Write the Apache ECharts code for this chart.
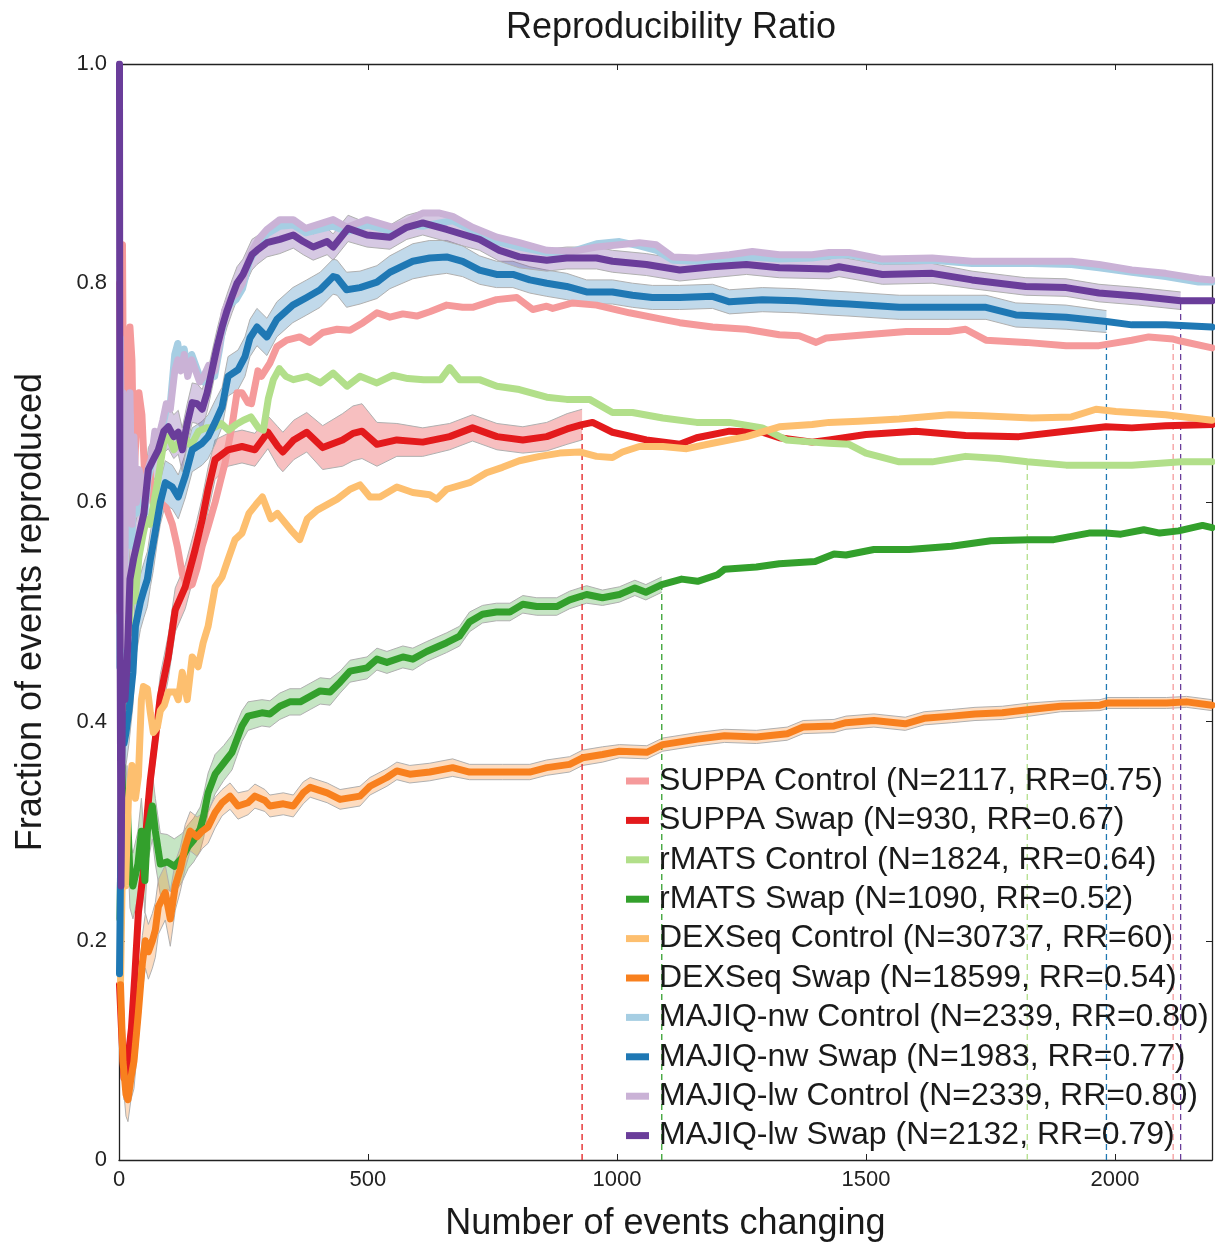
<!DOCTYPE html>
<html>
<head>
<meta charset="utf-8">
<script src="https://cdn.jsdelivr.net/npm/echarts@6/dist/echarts.min.js"></script>
<style>
html,body{margin:0;padding:0;background:#fff;}
#chart{width:1215px;height:1247px;}
</style>
</head>
<body>
<div id="chart"></div>
<script>
// legend order
var methodNames = ['SUPPA Control','SUPPA Swap','rMATS Control','rMATS Swap','DEXSeq Control','DEXSeq Swap','MAJIQ-nw Control','MAJIQ-nw Swap','MAJIQ-lw Control','MAJIQ-lw Swap'];
var eventCounts = [2117, 930, 1824, 1090, 30737, 18599, 2339, 1983, 2339, 2132];
var rrLabels = ['0.75','0.67','0.64','0.52','60','0.54','0.80','0.77','0.80','0.79'];
var lineColors = ['#f59a9b','#e31a1c','#b2df8a','#33a02c','#fdbf6f','#f8801e','#a6cee3','#1f78b4','#cab2d6','#6a3d9a'];
var xMax = 2195;

// [x, fraction] or [x, fraction, band half width]
var suppaControl = [[1,0.80],[4,0.60],[7,0.835],[10,0.60],[14,0.70],[18,0.62],[22,0.76],[26,0.73],[30,0.62],[34,0.66],[40,0.70],[46,0.68],[52,0.62],[60,0.64],[68,0.60],[75,0.605],[83,0.60],[95,0.595],[107,0.58],[117,0.56],[127,0.535],[137,0.523],[147,0.525],[157,0.54],[167,0.56],[179,0.578],[193,0.60],[204,0.62],[213,0.636],[227,0.67],[237,0.70],[247,0.70],[259,0.691],[266,0.69],[279,0.72],[286,0.715],[303,0.727],[317,0.742],[337,0.748],[363,0.751],[383,0.746],[409,0.755],[438,0.758],[464,0.757],[490,0.764],[518,0.773],[544,0.769],[570,0.772],[598,0.770],[624,0.774],[658,0.780],[690,0.778],[710,0.778],[758,0.785],[799,0.787],[831,0.776],[859,0.779],[871,0.777],[911,0.782],[959,0.780],[1025,0.773],[1092,0.767],[1126,0.764],[1192,0.760],[1260,0.758],[1326,0.753],[1366,0.752],[1400,0.746],[1420,0.750],[1500,0.753],[1581,0.756],[1667,0.756],[1700,0.758],[1741,0.748],[1821,0.746],[1902,0.743],[1968,0.743],[2034,0.748],[2068,0.751],[2117,0.749],[2134,0.747],[2195,0.741]];
var suppaSwap = [[1,0.16,0.02],[5,0.12,0.02],[10,0.075,0.02],[15,0.08,0.02],[20,0.10,0.02],[25,0.12,0.02],[32,0.17,0.02],[39,0.226,0.02],[49,0.263,0.02],[57,0.317,0.02],[63,0.347,0.02],[73,0.384,0.02],[83,0.423,0.02],[99,0.459,0.02],[113,0.502,0.02],[133,0.523,0.02],[153,0.557,0.02],[167,0.584,0.02],[179,0.612,0.02],[193,0.639,0.018],[219,0.648,0.015],[247,0.651,0.015],[273,0.648,0.015],[299,0.664,0.015],[319,0.651,0.018],[329,0.646,0.018],[351,0.657,0.018],[377,0.664,0.018],[409,0.650,0.02],[449,0.657,0.024],[470,0.663,0.025],[488,0.665,0.025],[518,0.653,0.02],[558,0.657,0.015],[610,0.655,0.013],[664,0.660,0.012],[710,0.668,0.012],[759,0.660,0.012],[811,0.657,0.012],[859,0.660,0.013],[900,0.667,0.014],[930,0.671,0.014],[951,0.673],[991,0.664],[1059,0.657],[1126,0.653],[1160,0.659],[1226,0.665],[1292,0.664],[1326,0.659],[1392,0.655],[1426,0.657],[1500,0.662],[1600,0.665],[1700,0.661],[1807,0.660],[1901,0.665],[1982,0.669],[2034,0.668],[2102,0.670],[2195,0.671]];
var rmatsControl = [[3,0.30],[8,0.42],[14,0.50],[20,0.48],[26,0.53],[32,0.51],[40,0.55],[48,0.57],[55,0.585],[62,0.58],[70,0.60],[78,0.62],[90,0.655],[100,0.66],[110,0.648],[120,0.655],[130,0.66],[145,0.652],[160,0.665],[175,0.668],[190,0.668],[205,0.672],[220,0.666],[235,0.671],[250,0.675],[265,0.678],[280,0.668],[290,0.666],[300,0.695],[310,0.712],[322,0.722],[335,0.715],[350,0.712],[378,0.715],[404,0.709],[430,0.718],[458,0.706],[484,0.715],[518,0.709],[550,0.716],[580,0.713],[612,0.712],[646,0.712],[664,0.723],[684,0.712],[724,0.712],[759,0.706],[804,0.703],[859,0.696],[899,0.694],[945,0.694],[991,0.682],[1031,0.682],[1092,0.677],[1160,0.673],[1226,0.673],[1292,0.668],[1340,0.657],[1392,0.655],[1426,0.654],[1466,0.653],[1500,0.645],[1567,0.637],[1633,0.637],[1700,0.642],[1767,0.640],[1824,0.637],[1902,0.634],[1968,0.634],[2034,0.634],[2134,0.637],[2195,0.637]];
var rmatsSwap = [[2,0.22,0.03],[6,0.36,0.03],[10,0.28,0.03],[16,0.33,0.03],[22,0.26,0.03],[28,0.25,0.03],[38,0.27,0.03],[45,0.30,0.03],[52,0.255,0.03],[57,0.30,0.03],[67,0.323,0.03],[73,0.30,0.03],[83,0.27,0.028],[97,0.272,0.025],[111,0.268,0.025],[127,0.276,0.022],[139,0.286,0.02],[150,0.292,0.02],[163,0.302,0.02],[170,0.314,0.02],[179,0.335,0.018],[193,0.352,0.018],[210,0.362,0.016],[227,0.372,0.016],[247,0.396,0.014],[259,0.405,0.013],[287,0.408,0.012],[303,0.407,0.012],[323,0.414,0.012],[343,0.418,0.012],[364,0.418,0.012],[384,0.423,0.012],[404,0.428,0.012],[424,0.427,0.012],[444,0.436,0.01],[464,0.446,0.01],[498,0.449,0.01],[518,0.457,0.01],[538,0.454,0.01],[570,0.459,0.01],[590,0.457,0.01],[618,0.464,0.009],[658,0.472,0.009],[684,0.478,0.009],[704,0.491,0.009],[730,0.498,0.008],[758,0.500,0.008],[785,0.500,0.008],[811,0.507,0.008],[839,0.505,0.008],[879,0.505,0.008],[905,0.511,0.008],[939,0.516,0.008],[971,0.513,0.007],[1005,0.516,0.007],[1036,0.522,0.007],[1058,0.518,0.007],[1090,0.525,0.007],[1130,0.530],[1162,0.528],[1202,0.534],[1216,0.539],[1280,0.541],[1326,0.544],[1398,0.546],[1436,0.553],[1460,0.552],[1516,0.557],[1587,0.557],[1672,0.560],[1751,0.565],[1829,0.566],[1877,0.566],[1948,0.572],[1982,0.572],[2012,0.571],[2058,0.575],[2090,0.572],[2128,0.574],[2176,0.579],[2195,0.577]];
var dexseqControl = [[3,0.16],[8,0.30],[13,0.25],[19,0.33],[26,0.36],[33,0.33],[39,0.35],[45,0.42],[49,0.432],[57,0.430],[63,0.408],[69,0.39],[77,0.395],[83,0.41],[91,0.415],[99,0.427],[113,0.427],[119,0.42],[127,0.445],[137,0.42],[147,0.459],[159,0.45],[169,0.472],[179,0.487],[193,0.523],[207,0.532],[219,0.548],[233,0.566],[247,0.572],[261,0.59],[275,0.598],[288,0.605],[305,0.585],[318,0.59],[345,0.575],[363,0.566],[378,0.585],[398,0.593],[438,0.603],[464,0.612],[484,0.616],[504,0.605],[524,0.605],[558,0.614],[590,0.609],[624,0.607],[638,0.603],[658,0.612],[704,0.618],[738,0.627],[770,0.632],[804,0.638],[845,0.642],[885,0.645],[925,0.646],[959,0.642],[991,0.641],[1011,0.646],[1045,0.651],[1092,0.651],[1140,0.649],[1192,0.654],[1260,0.660],[1326,0.669],[1392,0.671],[1426,0.673],[1486,0.674],[1567,0.676],[1667,0.680],[1733,0.679],[1833,0.677],[1913,0.678],[1962,0.685],[2002,0.683],[2102,0.680],[2195,0.675]];
var dexseqSwap = [[3,0.16,0.02],[8,0.09,0.02],[14,0.06,0.02],[18,0.055,0.02],[24,0.075,0.02],[30,0.09,0.025],[39,0.135,0.025],[47,0.18,0.025],[53,0.20,0.025],[59,0.19,0.025],[67,0.20,0.025],[73,0.21,0.025],[79,0.231,0.025],[93,0.244,0.025],[103,0.22,0.025],[113,0.25,0.022],[123,0.265,0.02],[133,0.286,0.02],[143,0.30,0.018],[157,0.295,0.018],[167,0.30,0.016],[179,0.304,0.015],[193,0.317,0.014],[207,0.326,0.012],[223,0.332,0.012],[239,0.323,0.012],[259,0.326,0.011],[273,0.332,0.011],[293,0.328,0.01],[303,0.323,0.01],[330,0.325,0.01],[350,0.323,0.01],[370,0.335,0.01],[384,0.340,0.009],[418,0.335,0.009],[444,0.329,0.009],[484,0.332,0.009],[504,0.341,0.008],[538,0.349,0.008],[558,0.355,0.008],[584,0.352,0.008],[624,0.354,0.008],[670,0.358,0.008],[704,0.354,0.007],[770,0.354,0.007],[825,0.354,0.007],[859,0.358,0.007],[905,0.361,0.007],[931,0.367,0.007],[971,0.370,0.007],[1005,0.373,0.006],[1060,0.372,0.006],[1092,0.379,0.006],[1162,0.384,0.006],[1216,0.387,0.006],[1280,0.386,0.006],[1342,0.389,0.006],[1374,0.395,0.006],[1436,0.396,0.006],[1460,0.399,0.006],[1516,0.401,0.006],[1579,0.398,0.006],[1617,0.403,0.006],[1672,0.405,0.006],[1719,0.407,0.006],[1774,0.408,0.006],[1829,0.411,0.006],[1891,0.414,0.005],[1970,0.415,0.005],[1986,0.417,0.005],[2050,0.417,0.005],[2104,0.417,0.005],[2144,0.418,0.005],[2195,0.415,0.005]];
var majiqNwControl = [[1,0.45],[3,0.72],[5,0.52],[8,0.66],[11,0.44],[14,0.64],[18,0.58],[22,0.68],[26,0.56],[30,0.64],[35,0.59],[40,0.62],[46,0.61],[52,0.59],[58,0.62],[65,0.635],[72,0.66],[80,0.655],[88,0.67],[95,0.685],[103,0.69],[112,0.735],[118,0.745],[124,0.725],[131,0.74],[138,0.72],[146,0.735],[154,0.725],[162,0.715],[170,0.71],[180,0.72],[192,0.715],[202,0.74],[212,0.77],[222,0.78],[235,0.785],[248,0.795],[262,0.82],[280,0.835],[297,0.845],[323,0.852],[350,0.853],[375,0.846],[430,0.852],[458,0.847],[498,0.853],[550,0.847],[578,0.853],[610,0.852],[644,0.855],[670,0.857],[710,0.848],[759,0.838],[804,0.833],[859,0.828],[911,0.829],[959,0.836],[1005,0.838],[1045,0.834],[1079,0.83],[1112,0.821],[1160,0.82],[1226,0.822],[1272,0.824],[1326,0.822],[1392,0.823],[1426,0.825],[1466,0.826],[1533,0.82],[1633,0.821],[1713,0.818],[1833,0.818],[1913,0.817],[1968,0.814],[2034,0.81],[2102,0.806],[2168,0.801],[2195,0.801]];
var majiqNwSwap = [[1,0.17,0.03],[3,0.26,0.03],[6,0.40,0.03],[10,0.38,0.03],[14,0.39,0.03],[20,0.41,0.03],[28,0.445,0.03],[33,0.487,0.03],[43,0.509,0.025],[50,0.52,0.025],[57,0.53,0.025],[63,0.548,0.025],[69,0.563,0.025],[77,0.584,0.02],[83,0.60,0.02],[93,0.618,0.02],[107,0.614,0.02],[119,0.605,0.02],[133,0.624,0.02],[147,0.648,0.02],[167,0.654,0.02],[179,0.660,0.02],[193,0.673,0.02],[207,0.687,0.018],[219,0.715,0.018],[239,0.721,0.018],[253,0.733,0.018],[263,0.75,0.017],[277,0.760,0.017],[297,0.751,0.017],[317,0.767,0.016],[349,0.780,0.016],[377,0.787,0.016],[404,0.794,0.016],[430,0.806,0.016],[438,0.805,0.016],[457,0.794,0.016],[484,0.796,0.015],[518,0.801,0.015],[544,0.810,0.015],[590,0.82,0.016],[624,0.823,0.016],[658,0.824,0.015],[690,0.82,0.014],[724,0.812,0.013],[758,0.808,0.012],[791,0.808,0.012],[825,0.803,0.012],[859,0.80,0.012],[899,0.797,0.012],[939,0.792,0.011],[991,0.792,0.011],[1031,0.789,0.011],[1071,0.787,0.011],[1126,0.787,0.011],[1192,0.788,0.011],[1226,0.783,0.011],[1292,0.785,0.011],[1360,0.784,0.011],[1426,0.782,0.011],[1466,0.781,0.011],[1567,0.778,0.011],[1667,0.778,0.011],[1741,0.778,0.011],[1801,0.771,0.011],[1902,0.769,0.011],[1983,0.765,0.01],[2034,0.762],[2102,0.762],[2195,0.760]];
var majiqLwControl = [[1,0.50],[3,0.75],[5,0.55],[8,0.70],[11,0.47],[14,0.68],[18,0.60],[22,0.70],[26,0.58],[30,0.66],[35,0.60],[40,0.63],[46,0.62],[52,0.60],[58,0.63],[65,0.64],[72,0.665],[80,0.66],[88,0.675],[95,0.69],[103,0.685],[112,0.72],[118,0.73],[124,0.72],[131,0.735],[138,0.715],[146,0.73],[154,0.72],[162,0.71],[170,0.715],[180,0.725],[192,0.72],[202,0.745],[212,0.775],[222,0.785],[235,0.79],[248,0.80],[262,0.825],[280,0.84],[297,0.849],[323,0.858],[350,0.858],[375,0.85],[430,0.858],[458,0.851],[498,0.858],[550,0.851],[578,0.856],[610,0.864],[644,0.864],[670,0.861],[710,0.851],[759,0.842],[804,0.837],[859,0.830],[911,0.829],[959,0.833],[1005,0.835],[1045,0.837],[1079,0.835],[1112,0.824],[1160,0.823],[1226,0.826],[1272,0.829],[1326,0.826],[1392,0.826],[1426,0.828],[1466,0.828],[1533,0.822],[1633,0.823],[1713,0.82],[1833,0.82],[1913,0.82],[1968,0.817],[2034,0.812],[2102,0.809],[2168,0.804],[2195,0.803]];
var majiqLwSwap = [[1,1.0,0],[2,0.5,0.03],[4,0.25,0.03],[7,0.43,0.03],[12,0.42,0.03],[16,0.45,0.03],[22,0.53,0.03],[30,0.55,0.025],[40,0.57,0.025],[50,0.59,0.025],[59,0.63,0.02],[70,0.64,0.02],[79,0.648,0.02],[90,0.665,0.02],[99,0.669,0.02],[110,0.66,0.02],[119,0.664,0.02],[127,0.648,0.02],[137,0.672,0.018],[147,0.691,0.018],[157,0.69,0.018],[167,0.685,0.018],[177,0.70,0.017],[187,0.721,0.017],[197,0.742,0.016],[207,0.76,0.016],[217,0.775,0.015],[227,0.788,0.015],[237,0.80,0.015],[249,0.808,0.014],[267,0.826,0.014],[277,0.830,0.013],[297,0.837,0.013],[323,0.84,0.013],[350,0.844,0.012],[370,0.838,0.012],[390,0.833,0.012],[418,0.838,0.012],[430,0.833,0.012],[460,0.85,0.012],[498,0.844,0.011],[544,0.842,0.011],[578,0.851,0.011],[610,0.855,0.011],[658,0.849,0.011],[724,0.84,0.01],[764,0.83,0.01],[804,0.824,0.01],[859,0.821,0.01],[899,0.823,0.01],[959,0.823,0.01],[991,0.82,0.01],[1059,0.817,0.01],[1126,0.812,0.01],[1192,0.815,0.01],[1260,0.817,0.009],[1326,0.814,0.009],[1426,0.813,0.009],[1446,0.815,0.009],[1533,0.808,0.009],[1633,0.809,0.009],[1713,0.803,0.008],[1821,0.797,0.008],[1902,0.796,0.008],[1968,0.791,0.008],[2048,0.788,0.008],[2132,0.784,0.008],[2195,0.784]];

var curves = [suppaControl, suppaSwap, rmatsControl, rmatsSwap, dexseqControl, dexseqSwap, majiqNwControl, majiqNwSwap, majiqLwControl, majiqLwSwap];

var legendNames = [];
var series = [];

// shaded band drawn through the axis scales
function bandSeries(band, color) {
	return {
		type: 'custom', silent: true, z: 1, clip: true, data: [0],
		renderItem: function (params, api) {
			var up = [], dn = [];
			for (var k = 0; k < band.length; k++) {
				up.push(api.coord([band[k][0], band[k][1] + band[k][2]]));
				dn.push(api.coord([band[k][0], band[k][1] - band[k][2]]));
			}
			var poly = up.concat(dn.slice().reverse());
			return {
				type: 'group',
				children: [
					{type: 'polygon', shape: {points: poly}, style: {fill: color, opacity: 0.28}},
					{type: 'polyline', shape: {points: up}, style: {stroke: '#b0b0b0', lineWidth: 1, fill: null}},
					{type: 'polyline', shape: {points: dn}, style: {stroke: '#b0b0b0', lineWidth: 1, fill: null}}
				]
			};
		}
	};
}

for (var i = 0; i < curves.length; i++) {
	var pts = curves[i];
	var n = eventCounts[i];
	legendNames.push(methodNames[i] + ' (N=' + n + ', RR=' + rrLabels[i] + ')');

	// confidence band up to N
	var band = pts.filter(function (p) { return p.length > 2 && p[0] <= n; });
	if (band.length) series.push(bandSeries(band, lineColors[i]));

	// dashed marker at N
	if (n < xMax) {
		var yn = null;
		for (var k = 0; k < pts.length; k++) {
			if (pts[k][0] === n) yn = pts[k][1];
		}
		if (yn !== null) {
			series.push({
				name: 'n' + i, type: 'line', data: [[n, 0], [n, yn]], symbol: 'none', silent: true, z: 2,
				lineStyle: {color: lineColors[i], width: 1.3, type: [6, 4]}
			});
		}
	}
}

for (var i = 0; i < curves.length; i++) {
	series.push({
		name: legendNames[i],
		type: 'line',
		data: curves[i].map(function (p) { return [p[0], p[1]]; }),
		symbol: 'none',
		color: lineColors[i],
		z: 3,
		lineStyle: {width: 7, color: lineColors[i], cap: 'round', join: 'round'}
	});
}

var fontFam = '"Liberation Sans", Arial, Helvetica, sans-serif';

var option = {
	animation: false,
	backgroundColor: '#fff',
	title: {
		text: 'Reproducibility Ratio',
		left: 666, top: 5, textAlign: 'center',
		textStyle: {fontFamily: fontFam, fontSize: 36, fontWeight: 'normal', color: '#1a1a1a'}
	},
	grid: {left: 119, right: 2, top: 64, bottom: 86},
	legend: {
		data: legendNames,
		orient: 'vertical',
		left: 621, top: 759,
		icon: 'rect',
		itemWidth: 23, itemHeight: 7,
		itemGap: 5.4,
		selectedMode: false,
		textStyle: {fontFamily: fontFam, fontSize: 32, lineHeight: 34, color: '#1a1a1a', padding: [0, 0, 0, 5]}
	},
	xAxis: [{
		type: 'value', min: 0, max: xMax, interval: 500,
		name: 'Number of events changing', nameLocation: 'middle', nameGap: 46,
		nameTextStyle: {fontFamily: fontFam, fontSize: 36, color: '#1a1a1a'},
		axisLine: {show: true, onZero: false, lineStyle: {color: '#222', width: 1.3}},
		axisTick: {inside: true, length: 6, lineStyle: {color: '#222'}},
		axisLabel: {fontFamily: fontFam, fontSize: 22, color: '#222', margin: 9,
			formatter: function (v) { return v % 500 === 0 ? String(v) : ''; }},
		splitLine: {show: false}
	}, {
		type: 'value', min: 0, max: xMax, interval: 500, position: 'top',
		axisLine: {show: true, onZero: false, lineStyle: {color: '#222', width: 1.3}},
		axisTick: {inside: true, length: 6, lineStyle: {color: '#222'}},
		axisLabel: {show: false}, splitLine: {show: false}
	}],
	yAxis: [{
		type: 'value', min: 0, max: 1, interval: 0.2,
		name: 'Fraction of events reproduced', nameLocation: 'middle', nameGap: 70,
		nameTextStyle: {fontFamily: fontFam, fontSize: 36, color: '#1a1a1a'},
		axisLine: {show: true, onZero: false, lineStyle: {color: '#222', width: 1.3}},
		axisTick: {show: true, inside: true, length: 6, lineStyle: {color: '#222'}},
		axisLabel: {fontFamily: fontFam, fontSize: 22, color: '#222', margin: 12,
			formatter: function (v) { return v === 0 ? '0' : v.toFixed(1); }},
		splitLine: {show: false}
	}, {
		type: 'value', min: 0, max: 1, interval: 0.2, position: 'right',
		axisLine: {show: true, onZero: false, lineStyle: {color: '#222', width: 1.3}},
		axisTick: {show: true, inside: true, length: 6, lineStyle: {color: '#222'}},
		axisLabel: {show: false}, splitLine: {show: false}
	}],
	series: series
};

var myChart = echarts.init(document.getElementById('chart'));
myChart.setOption(option);
</script>
</body>
</html>
